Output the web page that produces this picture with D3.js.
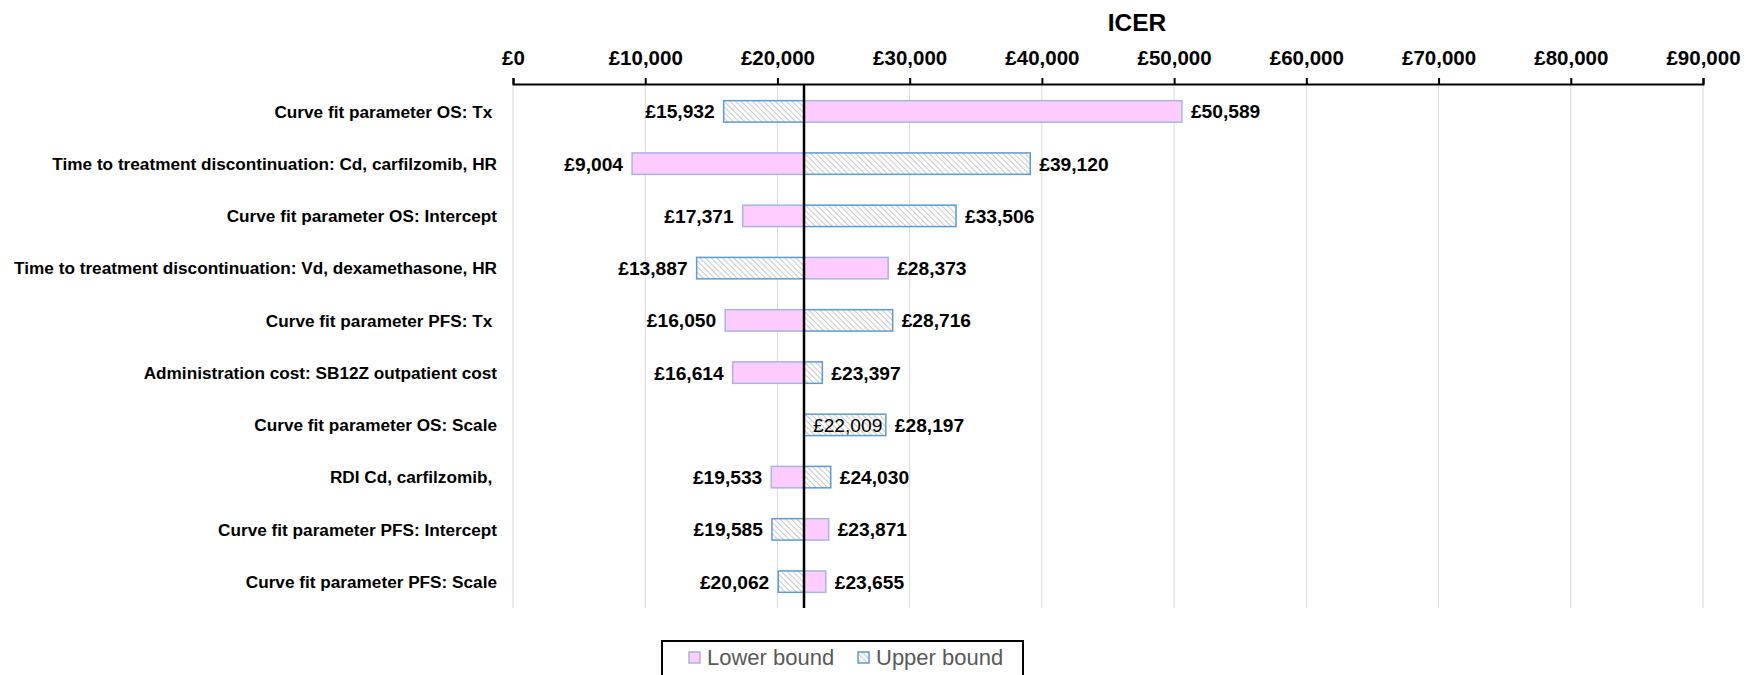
<!DOCTYPE html>
<html>
<head>
<meta charset="utf-8">
<script src="https://cdn.jsdelivr.net/npm/d3@7"></script>
<style>
  html, body { margin: 0; padding: 0; background: #fff; }
  svg { display: block; font-family: "Liberation Sans", Arial, sans-serif; }
  .cat { white-space: pre; }
</style>
</head>
<body>
<svg id="chart" width="1746" height="675"></svg>
<script>
// Parameters in the one-way sensitivity analysis, top to bottom
const categories = [
  "Curve fit parameter OS: Tx ",
  "Time to treatment discontinuation: Cd, carfilzomib, HR",
  "Curve fit parameter OS: Intercept",
  "Time to treatment discontinuation: Vd, dexamethasone, HR",
  "Curve fit parameter PFS: Tx ",
  "Administration cost: SB12Z outpatient cost",
  "Curve fit parameter OS: Scale",
  "RDI Cd, carfilzomib, ",
  "Curve fit parameter PFS: Intercept",
  "Curve fit parameter PFS: Scale"
];
// ICER at the lower and upper bound of each parameter (GBP)
const lowerBound = [50589, 9004, 17371, 28373, 16050, 16614, 22009, 19533, 23871, 23655];
const upperBound = [15932, 39120, 33506, 13887, 28716, 23397, 28197, 24030, 19585, 20062];
// Base-case ICER
const baseICER = 22009;
// Axis ticks
const tickValues = [0, 10000, 20000, 30000, 40000, 50000, 60000, 70000, 80000, 90000];
const seriesNames = ["Lower bound", "Upper bound"];

const svg = d3.select("#chart");
const fmt = v => "£" + d3.format(",")(v);

const x = d3.scaleLinear().domain([0, 90000]).range([513, 1703]);
const y = d3.scaleBand().domain(categories).range([85, 608]).paddingInner(0.59).paddingOuter(0.3);

// Hatch pattern for the upper-bound bars
const defs = svg.append("defs");
const pat = defs.append("pattern")
  .attr("id", "hatch").attr("patternUnits", "userSpaceOnUse")
  .attr("width", 4).attr("height", 4)
  .attr("patternTransform", "rotate(-45)");
pat.append("rect").attr("width", 4).attr("height", 4).attr("fill", "#ffffff");
pat.append("line").attr("x1", 0).attr("y1", 0).attr("x2", 0).attr("y2", 4)
  .attr("stroke", "#9a9a9a").attr("stroke-width", 1.1);

// Vertical gridlines
svg.append("g").selectAll("line").data(tickValues).join("line")
  .attr("x1", d => x(d)).attr("x2", d => x(d))
  .attr("y1", 84).attr("y2", 608)
  .attr("stroke", "#d9d9d9").attr("stroke-width", 1);

// Top axis
const axis = d3.axisTop(x).tickValues(tickValues).tickSize(6).tickFormat(fmt);
const gAxis = svg.append("g").attr("transform", "translate(0,84)").call(axis);
gAxis.select(".domain").attr("stroke", "#000").attr("stroke-width", 2);
gAxis.selectAll(".tick line").attr("stroke", "#000").attr("stroke-width", 2);
gAxis.selectAll(".tick text")
  .attr("y", -19).attr("dy", 0)
  .attr("font-family", "Liberation Sans, Arial, sans-serif")
  .attr("font-size", 20.5).attr("font-weight", "bold").attr("fill", "#000");

// Axis title
svg.append("text").attr("x", 1137).attr("y", 31)
  .attr("text-anchor", "middle").attr("font-size", 24.5).attr("font-weight", "bold")
  .text("ICER");

// Category labels
svg.append("g").selectAll("text").data(categories).join("text")
  .attr("class", "cat")
  .attr("x", 497).attr("y", d => y(d) + y.bandwidth() / 2)
  .attr("dy", "0.36em").attr("text-anchor", "end")
  .attr("font-size", 17.2).attr("font-weight", "bold")
  .text(d => d);

const styles = [
  { fill: "#ffccff", stroke: "#a6b4e6" },
  { fill: "url(#hatch)", stroke: "#5b9bd5" }
];
const series = [lowerBound, upperBound];

// Bars, drawn outward from the base-case ICER
series.forEach((vals, si) => {
  svg.append("g").selectAll("rect").data(vals).join("rect")
    .attr("x", d => x(Math.min(d, baseICER)))
    .attr("y", (d, i) => y(categories[i]))
    .attr("width", d => Math.abs(x(d) - x(baseICER)))
    .attr("height", y.bandwidth())
    .attr("fill", styles[si].fill)
    .attr("stroke", styles[si].stroke).attr("stroke-width", 1.5)
    .attr("display", d => d === baseICER ? "none" : null);
});

// Base-case line
svg.append("line")
  .attr("x1", x(baseICER)).attr("x2", x(baseICER))
  .attr("y1", 84).attr("y2", 608)
  .attr("stroke", "#000").attr("stroke-width", 2.5);

// Value labels at the end of each bar
series.forEach(vals => {
  svg.append("g").selectAll("text").data(vals).join("text")
    .attr("x", d => d < baseICER ? x(d) - 9 : x(d) + 9)
    .attr("y", (d, i) => y(categories[i]) + y.bandwidth() / 2)
    .attr("dy", "0.36em")
    .attr("text-anchor", d => d < baseICER ? "end" : "start")
    .attr("font-size", 19.2)
    .attr("font-weight", d => d === baseICER ? "normal" : "bold")
    .text(fmt);
});

// Legend
const lg = svg.append("g");
lg.append("rect").attr("x", 662).attr("y", 641).attr("width", 361).attr("height", 45)
  .attr("fill", "#fff").attr("stroke", "#000").attr("stroke-width", 2);
const legendX = [689, 858];
seriesNames.forEach((name, i) => {
  lg.append("rect").attr("x", legendX[i]).attr("y", 652).attr("width", 11).attr("height", 11)
    .attr("fill", styles[i].fill).attr("stroke", styles[i].stroke).attr("stroke-width", 1.5);
  lg.append("text").attr("x", legendX[i] + 18).attr("y", 665)
    .attr("font-size", 22).attr("fill", "#595959").text(name);
});
</script>
</body>
</html>
